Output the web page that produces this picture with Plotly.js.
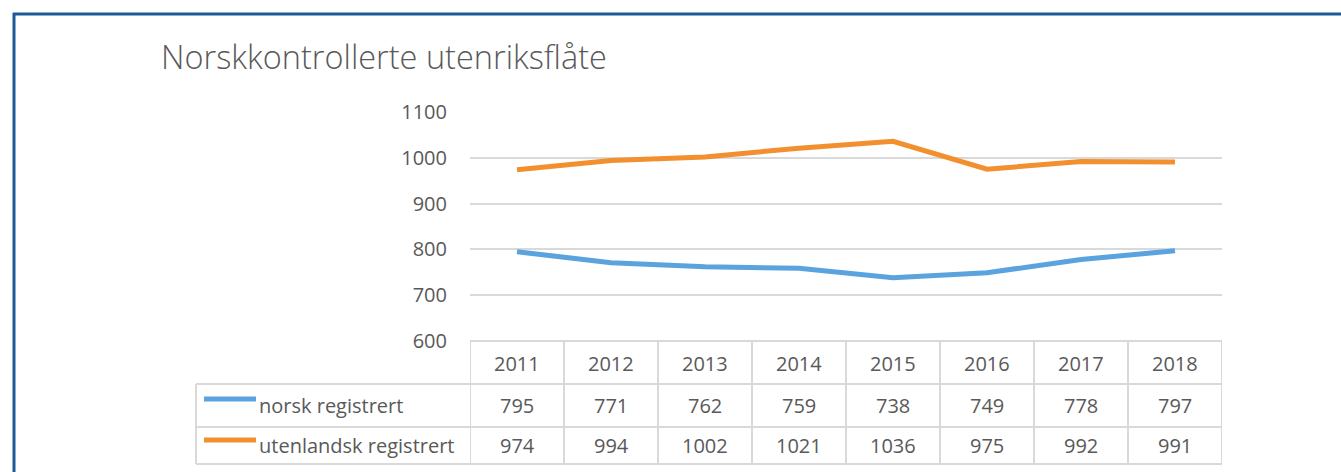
<!DOCTYPE html>
<html>
<head>
<meta charset="utf-8">
<script src="https://cdn.plot.ly/plotly-3.0.1.min.js"></script>
<style>html,body{margin:0;padding:0;background:#fff;}#chart{width:1341px;height:472px;}</style>
</head>
<body>
<div id="chart"></div>
<script>
const titleText = "Norskkontrollerte utenriksflåte";
const years = ["2011","2012","2013","2014","2015","2016","2017","2018"];
const seriesNames = ["norsk registrert","utenlandsk registrert"];
const norsk = [795,771,762,759,738,749,778,797];
const utenlandsk = [974,994,1002,1021,1036,975,992,991];
const yTicks = [600,700,800,900,1000,1100];

const seriesValues = [norsk, utenlandsk];
const seriesColors = ["#5BA3DE","#F2902F"];
const textColor = "#595959";
const gridColor = "#D9D9D9";
const FONT = "Open Sans, Noto Sans, sans-serif";
const FS = 20;

// geometry (pixels) -> paper conversion
const W = 1341, H = 472;
const mL = 470, mR = 119, mT = 112, mB = 131;
const pw = W - mL - mR, ph = H - mT - mB;
const px = p => (p - mL) / pw;
const py = p => (H - mB - p) / ph;

const traces = seriesValues.map((vals, i) => ({
  type: "scatter", mode: "lines",
  x: years.map((_, k) => k), y: vals,
  name: seriesNames[i],
  line: {color: seriesColors[i], width: 5},
  hoverinfo: "skip", showlegend: false
}));

const shapes = [];
const annotations = [];
const n = years.length;
const rowTop = 341, rowH1 = 384, rowH2 = 427, rowBot = 464;
const labelLeft = 196;

// horizontal table lines
shapes.push({type:"line", xref:"x", yref:"paper", x0:-0.5, x1:n-0.5, y0:py(rowTop), y1:py(rowTop), line:{color:gridColor,width:2}});
[rowH1, rowH2, rowBot].forEach(r => {
  shapes.push({type:"line", xref:"paper", yref:"paper", x0:px(labelLeft), x1:px(mL), y0:py(r), y1:py(r), line:{color:gridColor,width:2}});
  shapes.push({type:"line", xref:"x", yref:"paper", x0:-0.5, x1:n-0.5, y0:py(r), y1:py(r), line:{color:gridColor,width:2}});
});
// vertical table lines
for (let k = 0; k <= n; k++) {
  shapes.push({type:"line", xref:"x", yref:"paper", x0:k-0.5, x1:k-0.5, y0:py(rowTop), y1:py(rowBot), line:{color:gridColor,width:2}});
}
shapes.push({type:"line", xref:"paper", yref:"paper", x0:px(labelLeft), x1:px(labelLeft), y0:py(rowH1), y1:py(rowBot), line:{color:gridColor,width:2}});

// header years
years.forEach((yr, k) => annotations.push({xref:"x", yref:"paper", x:k, y:py(363), text:yr, showarrow:false, xanchor:"center", yanchor:"middle", font:{family:FONT,size:FS,color:textColor}}));
// rows
const rowCenters = [405, 445];
const legendY = [399, 440];
seriesValues.forEach((vals, i) => {
  vals.forEach((v, k) => annotations.push({xref:"x", yref:"paper", x:k, y:py(rowCenters[i]), text:String(v), showarrow:false, xanchor:"center", yanchor:"middle", font:{family:FONT,size:FS,color:textColor}}));
  annotations.push({xref:"paper", yref:"paper", x:px(257), y:py(rowCenters[i]), text:seriesNames[i], showarrow:false, xanchor:"left", yanchor:"middle", font:{family:FONT,size:FS,color:textColor}});
  shapes.push({type:"line", xref:"paper", yref:"paper", x0:px(204), x1:px(256), y0:py(legendY[i]), y1:py(legendY[i]), line:{color:seriesColors[i], width:5}});
});

// outer blue frame (top + left)
shapes.push({type:"line", xref:"paper", yref:"paper", x0:px(13), x1:px(1341), y0:py(14), y1:py(14), line:{color:"#1A5A96", width:3}});
shapes.push({type:"line", xref:"paper", yref:"paper", x0:px(14), x1:px(14), y0:py(13), y1:py(472), line:{color:"#1A5A96", width:3}});

const layout = {
  width: W, height: H,
  margin: {l:mL, r:mR, t:mT, b:mB, pad:0},
  paper_bgcolor: "#fff", plot_bgcolor: "#fff",
  title: {text: titleText, xref:"container", yref:"container", x:161/W, xanchor:"left", y:1-58/H, yanchor:"middle", font:{family:FONT, size:32.5, weight:300, color:textColor}},
  xaxis: {type:"linear", range:[-0.5, n-0.5], showgrid:false, zeroline:false, showticklabels:false, showline:false, ticks:""},
  yaxis: {range:[600,1100], tickvals:yTicks, ticktext:yTicks.map(String), showgrid:true, gridcolor:gridColor, gridwidth:2, zeroline:false, showline:false, ticks:"", ticklabelstandoff:22, tickfont:{family:FONT,size:FS,color:textColor}},
  shapes: shapes, annotations: annotations,
  showlegend: false
};
Plotly.newPlot("chart", traces, layout, {staticPlot:true, displayModeBar:false});
</script>
</body>
</html>
